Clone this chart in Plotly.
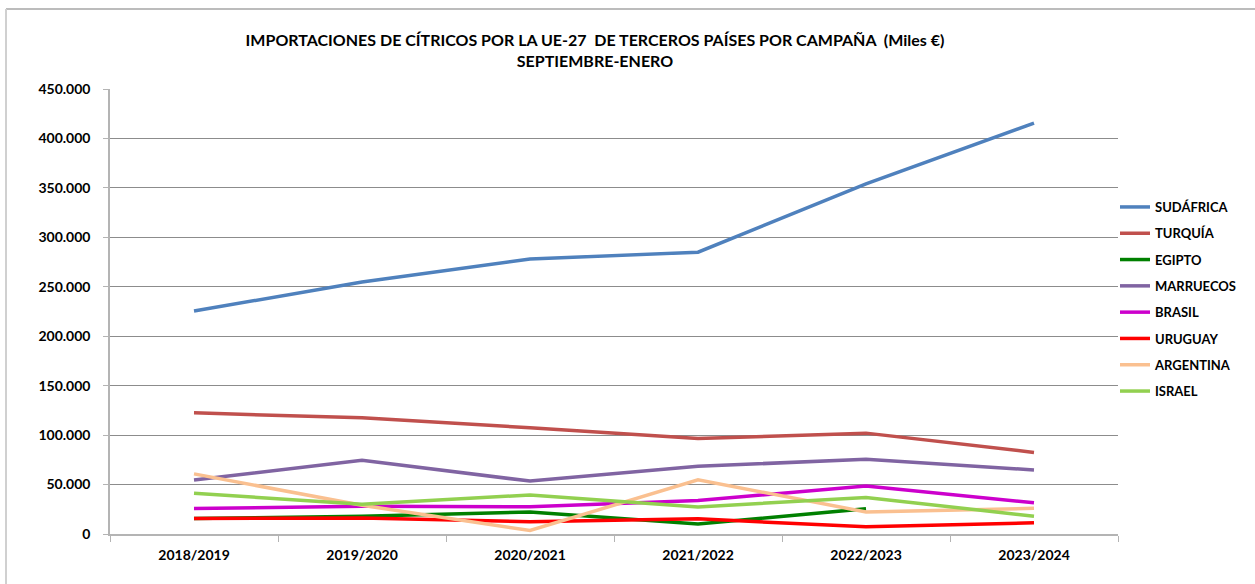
import plotly.graph_objects as go

# Campañas septiembre-enero, importaciones UE-27 (miles de €)
campanas = ["2018/2019", "2019/2020", "2020/2021", "2021/2022", "2022/2023", "2023/2024"]

sudafrica = [225500, 254800, 278000, 285000, 354000, 415500]
turquia = [122500, 117500, 107500, 96500, 102000, 82500]
egipto = [15600, 18000, 22300, 10000, 25600, None]
marruecos = [54500, 74500, 53500, 68500, 75500, 64800]
brasil = [25800, 28000, 27500, 34000, 48500, 31500]
uruguay = [15800, 16300, 12300, 15300, 7300, 11300]
argentina = [60800, 29000, 3500, 54800, 22300, 26000]
israel = [41300, 30000, 39500, 27300, 37000, 18000]

series = [
    ("SUDÁFRICA", sudafrica, "#4F81BD"),
    ("TURQUÍA", turquia, "#C0504D"),
    ("EGIPTO", egipto, "#008000"),
    ("MARRUECOS", marruecos, "#8064A2"),
    ("BRASIL", brasil, "#CC00CC"),
    ("URUGUAY", uruguay, "#FF0000"),
    ("ARGENTINA", argentina, "#FAC090"),
    ("ISRAEL", israel, "#92D050"),
]

FONT = "Lato, Calibri, Arial, sans-serif"
GRID = "#8C8C8C"
AXIS = "#B4B4B4"

fig = go.Figure()
for name, vals, color in series:
    fig.add_trace(
        go.Scatter(
            x=campanas,
            y=vals,
            mode="lines",
            name=f"<b>{name}</b>",
            legendgroup=name,
            line=dict(color=color, width=3.5),
            connectgaps=False,
        )
    )

fig.update_layout(
    width=1255,
    height=584,
    plot_bgcolor="#FFFFFF",
    paper_bgcolor="#FFFFFF",
    separators=",.",
    font=dict(family=FONT, size=13, color="#000000"),
    margin=dict(l=110, r=137, t=89, b=50),
    title=dict(
        text="<b>IMPORTACIONES DE CÍTRICOS POR LA UE-27  DE TERCEROS PAÍSES POR CAMPAÑA  (Miles €)<br>SEPTIEMBRE-ENERO</b>",
        font=dict(family=FONT, size=16, color="#000000"),
        xref="container",
        x=595 / 1255,
        xanchor="center",
        yref="container",
        y=1 - 46 / 584,
        yanchor="top",
    ),
    legend=dict(
        x=(1115 - 110) / 1008,
        xanchor="left",
        y=(534 - 192) / 445,
        yanchor="top",
        traceorder="grouped",
        tracegroupgap=6.4,
        font=dict(family=FONT, size=13, color="#000000"),
        itemwidth=30,
        bgcolor="rgba(0,0,0,0)",
    ),
    xaxis=dict(
        type="category",
        range=[-0.5, 5.5],
        tickson="boundaries",
        ticks="outside",
        ticklen=6,
        tickcolor=AXIS,
        showline=True,
        linecolor=AXIS,
        linewidth=1.5,
        showgrid=False,
        tickfont=dict(family=FONT, size=14, color="#000000", weight="bold"),
        ticklabelstandoff=7,
    ),
    yaxis=dict(
        range=[0, 450000],
        dtick=50000,
        tickformat=",d",
        ticks="outside",
        ticklen=5,
        tickcolor=AXIS,
        showline=True,
        linecolor=AXIS,
        linewidth=1.5,
        showgrid=True,
        gridcolor=GRID,
        gridwidth=1,
        zeroline=False,
        tickfont=dict(family=FONT, size=14, color="#000000", weight="bold"),
        ticklabelstandoff=10,
    ),
)

# outer chart frame (only top and left edges are visible in the original)
fig.add_shape(type="line", xref="paper", yref="paper",
              x0=(6 - 110) / 1008, x1=(1300 - 110) / 1008,
              y0=(534 - 9) / 445, y1=(534 - 9) / 445,
              line=dict(color="#A6A6A6", width=1.5))
fig.add_shape(type="line", xref="paper", yref="paper",
              x0=(6 - 110) / 1008, x1=(6 - 110) / 1008,
              y0=(534 - 9) / 445, y1=(534 - 640) / 445,
              line=dict(color="#D0D0D0", width=2))

# drop the default 8px body margin so the figure sits at the window origin
fig.write_html(
    "out.html",
    config={"displayModeBar": False},
    post_script="document.body.style.margin='0';",
)
